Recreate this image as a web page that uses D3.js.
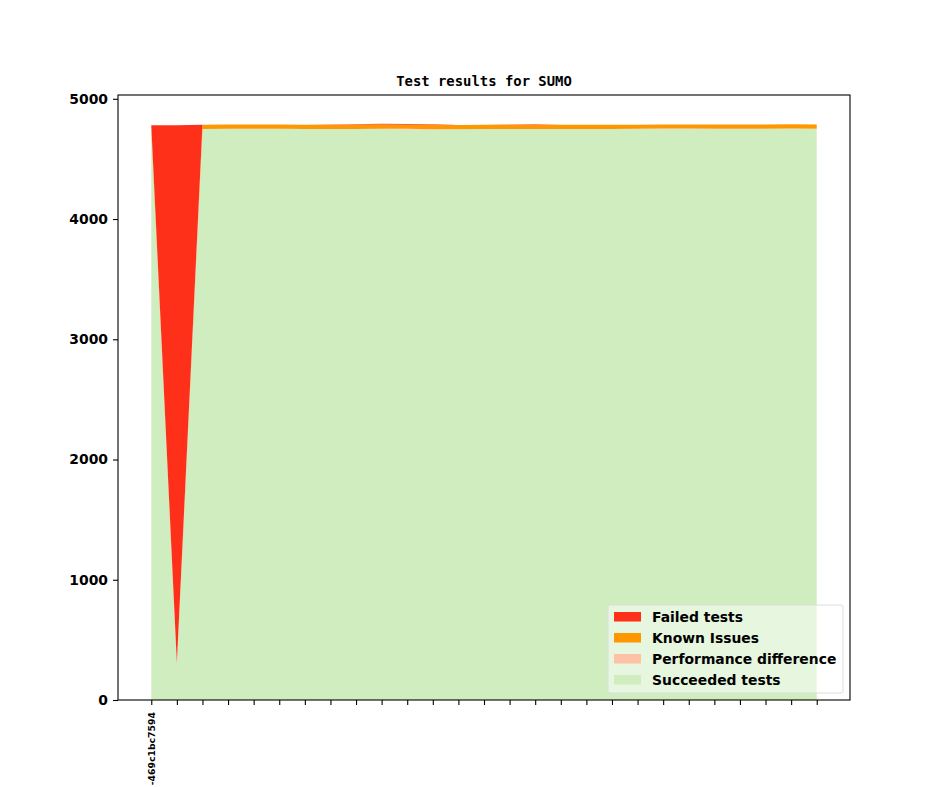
<!DOCTYPE html>
<html>
<head>
<meta charset="utf-8">
<script src="https://cdn.jsdelivr.net/npm/d3@7"></script>
<style>
    body { margin: 0; background: #fff; }
    svg { display: block; }
</style>
</head>
<body>
<div id="chart"></div>
<script>
// commits (only the first one gets a visible label)
let commitLabels = ["-469c1bc7594", "", "", "", "", "", "", "", "", "", "", "", "", "",
    "", "", "", "", "", "", "", "", "", "", "", "", ""];

// series, bottom to top
let succeeded = [4742, 305, 4748, 4748, 4748, 4748, 4748, 4748, 4748, 4748, 4745, 4743, 4746, 4748,
    4748, 4748, 4748, 4748, 4748, 4748, 4749, 4749, 4750, 4750, 4750, 4750, 4750];
let perfDiff = [0, 0, 0, 2, 3, 2, 0, 0, 0, 2, 5, 3, 0, 0,
    0, 0, 0, 0, 0, 3, 4, 3, 0, 0, 0, 2, 0];
let knownIssues = [38, 2, 36, 36, 36, 36, 36, 36, 36, 36, 34, 38, 36, 36,
    36, 36, 36, 36, 36, 34, 33, 34, 36, 36, 36, 36, 36];
let failed = [0, 4474, 0, 0, 0, 0, 0, 3, 5, 6, 6, 4, 0, 0,
    3, 4, 0, 0, 0, 0, 0, 0, 0, 0, 0, 0, 0];

let yTicks = [0, 1000, 2000, 3000, 4000, 5000];

let svgWidth = 944;
let svgHeight = 787;

// axes box, as in the picture
let margin = { top: 95, right: 94, bottom: 87, left: 118 };
let chartWidth = svgWidth - margin.left - margin.right;
let chartHeight = svgHeight - margin.top - margin.bottom;

let svg = d3
    .select("#chart")
    .append("svg")
    .attr("width", svgWidth)
    .attr("height", svgHeight);

let chartGroup = svg
    .append("g")
    .attr("transform", `translate(${margin.left}, ${margin.top})`);

// build rows for the stack
let rows = commitLabels.map((c, i) => ({
    idx: i,
    succeeded: succeeded[i],
    perf: perfDiff[i],
    known: knownIssues[i],
    failed: failed[i]
}));

let keys = ["succeeded", "perf", "known", "failed"];
let colors = {
    succeeded: "#cfedbf",
    perf: "#fdc2a6",
    known: "#ff9800",
    failed: "#ff301a"
};

let stacked = d3.stack().keys(keys)(rows);

let n = commitLabels.length;
let pad = (n - 1) * 0.05;
let xScale = d3
    .scaleLinear()
    .domain([-pad, n - 1 + pad])
    .range([0, chartWidth]);

let yMax = d3.max(rows, d => d.succeeded + d.perf + d.known + d.failed) * 1.05;
let yScale = d3
    .scaleLinear()
    .domain([0, yMax])
    .range([chartHeight, 0]);

let area = d3
    .area()
    .x(d => xScale(d.data.idx))
    .y0(d => yScale(d[0]))
    .y1(d => yScale(d[1]));

chartGroup
    .selectAll("path.layer")
    .data(stacked)
    .enter()
    .append("path")
    .attr("class", "layer")
    .attr("fill", d => colors[d.key])
    .attr("d", area);

// axes
let bottomAxis = d3
    .axisBottom(xScale)
    .tickValues(d3.range(n))
    .tickFormat(i => commitLabels[i])
    .tickSize(5)
    .tickSizeOuter(0);

let leftAxis = d3
    .axisLeft(yScale)
    .tickValues(yTicks)
    .tickFormat(d3.format("d"))
    .tickSize(5)
    .tickSizeOuter(0);

let xAxisG = chartGroup
    .append("g")
    .attr("transform", `translate(0, ${chartHeight})`)
    .call(bottomAxis);

xAxisG.selectAll("text")
    .attr("transform", "rotate(-90)")
    .attr("x", -12)
    .attr("y", 0)
    .attr("dy", "0.35em")
    .style("text-anchor", "end")
    .style("font-family", "DejaVu Sans")
    .style("font-weight", "bold")
    .style("font-size", "9.3px")
    .attr("fill", "#000");

let yAxisG = chartGroup
    .append("g")
    .call(leftAxis);

yAxisG.selectAll("text")
    .attr("x", -10)
    .style("font-family", "DejaVu Sans")
    .style("font-weight", "bold")
    .style("font-size", "13.9px")
    .attr("fill", "#000");

chartGroup.selectAll(".domain").remove();
chartGroup.selectAll(".tick line").attr("stroke", "#000").attr("stroke-width", 1.1);

// frame around the axes
chartGroup
    .append("rect")
    .attr("width", chartWidth)
    .attr("height", chartHeight)
    .attr("fill", "none")
    .attr("stroke", "#000")
    .attr("stroke-width", 1.1);

// title
chartGroup
    .append("text")
    .attr("x", chartWidth / 2)
    .attr("y", -9)
    .attr("text-anchor", "middle")
    .style("font-family", "DejaVu Sans Mono")
    .style("font-weight", "bold")
    .style("font-size", "13.9px")
    .text("Test results for SUMO");

// legend (reverse of stacking order)
let legendItems = [
    { label: "Failed tests", key: "failed" },
    { label: "Known Issues", key: "known" },
    { label: "Performance difference", key: "perf" },
    { label: "Succeeded tests", key: "succeeded" }
];

let legend = chartGroup
    .append("g")
    .attr("transform", `translate(${chartWidth - 242}, ${chartHeight - 95})`);

legend
    .append("rect")
    .attr("width", 235)
    .attr("height", 88)
    .attr("rx", 2)
    .attr("fill", "#fff")
    .attr("fill-opacity", 0.5)
    .attr("stroke", "#ddd");

let rowsG = legend
    .selectAll("g.item")
    .data(legendItems)
    .enter()
    .append("g")
    .attr("class", "item")
    .attr("transform", (d, i) => `translate(6, ${7 + i * 21})`);

rowsG
    .append("rect")
    .attr("width", 27)
    .attr("height", 9.5)
    .attr("fill", d => colors[d.key]);

rowsG
    .append("text")
    .attr("x", 38)
    .attr("y", 9.5)
    .style("font-family", "DejaVu Sans")
    .style("font-weight", "bold")
    .style("font-size", "13.9px")
    .text(d => d.label);
</script>
</body>
</html>
